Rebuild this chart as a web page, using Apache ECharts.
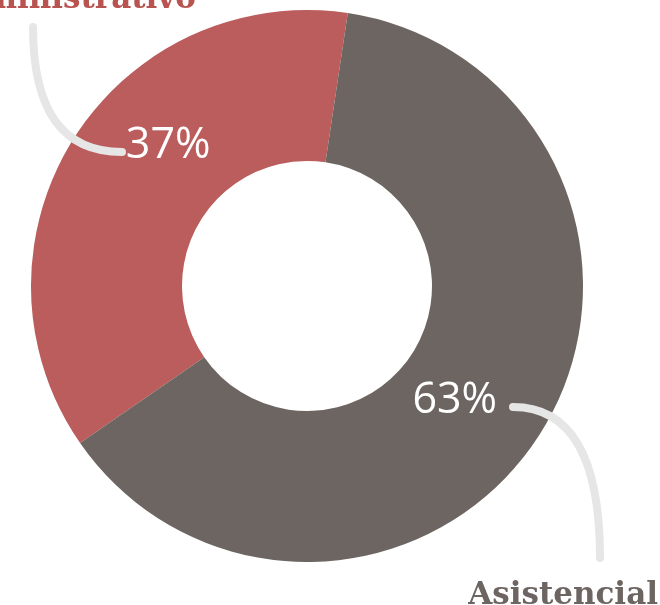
<!DOCTYPE html>
<html>
<head>
<meta charset="utf-8">
<script src="https://cdn.jsdelivr.net/npm/echarts@6/dist/echarts.min.js"></script>
<style>
  html, body { margin: 0; padding: 0; background: #fff; }
  #chart { width: 660px; height: 605px; }
</style>
</head>
<body>
<div id="chart"></div>
<script>
const categories = ['Administrativo', 'Asistencial'];
const shares = [37, 63];
const colors = ['#bb5d5c', '#6d6561'];
const labelShift = [[34, -33], [-25, 7]];

const cx = 307, cy = 286;

const dom = document.getElementById('chart');
const myChart = echarts.init(dom, null, { renderer: 'canvas' });

const option = {
  animation: false,
  series: [
    {
      type: 'pie',
      center: [cx, cy],
      radius: [125, 276],
      startAngle: 81.5,
      clockwise: false,
      silent: true,
      data: categories.map((name, i) => ({
        name: name,
        value: shares[i],
        itemStyle: { color: colors[i] }
      })),
      label: {
        position: 'inside',
        formatter: '{c}%',
        color: '#fff',
        fontFamily: '"Open Sans"',
        fontSize: 43,
        fontWeight: 500
      },
      labelLine: { show: false },
      labelLayout: (params) => ({
        dx: labelShift[params.dataIndex][0],
        dy: labelShift[params.dataIndex][1]
      })
    }
  ],
  graphic: [
    // connector curves
    {
      type: 'bezierCurve',
      z: 100,
      shape: { x1: 122, y1: 152, cpx1: 62, cpy1: 152, cpx2: 33, cpy2: 110, x2: 33, y2: 27 },
      style: { stroke: '#e6e6e6', lineWidth: 8, lineCap: 'round', fill: null }
    },
    {
      type: 'bezierCurve',
      z: 100,
      shape: { x1: 513, y1: 407, cpx1: 568, cpx2: 600, cpy1: 407, cpy2: 452, x2: 600, y2: 558 },
      style: { stroke: '#e6e6e6', lineWidth: 8, lineCap: 'round', fill: null }
    },
    // category names
    {
      type: 'text',
      x: 196,
      y: 15,
      style: {
        text: categories[0],
        fill: '#b9534f',
        font: 'bold 31px "DejaVu Serif"',
        align: 'right',
        verticalAlign: 'bottom'
      }
    },
    {
      type: 'text',
      x: 658,
      y: 611,
      style: {
        text: categories[1],
        fill: '#6d6561',
        font: 'bold 31px "DejaVu Serif"',
        align: 'right',
        verticalAlign: 'bottom'
      }
    }
  ]
};

myChart.setOption(option);
</script>
</body>
</html>
